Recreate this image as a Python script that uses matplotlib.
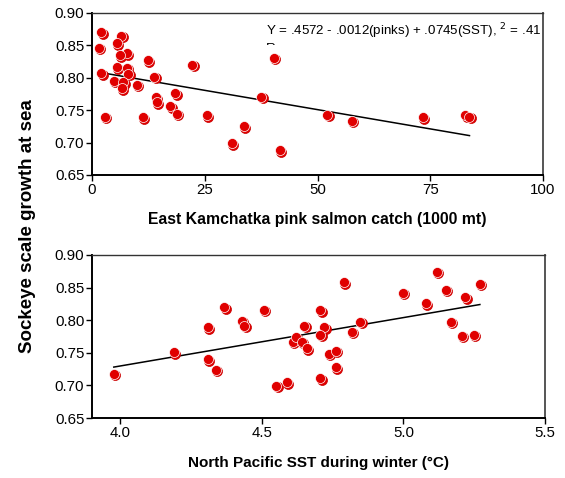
import numpy as np
import matplotlib.pyplot as plt
import matplotlib.transforms as mtransforms

plt.rcParams['font.family'] = ['Liberation Sans', 'DejaVu Sans']

# Top panel: pink salmon catch (1000 mt) vs sockeye scale growth
pinks = [2.05, 6.5, 1.5, 5.5, 7.75, 6.1, 12.4, 22.2, 2.05, 5.5, 7.75, 8.05,
         4.8, 6.9, 6.6, 9.9, 13.8, 14.1, 14.4, 18.5, 17.4, 18.75, 2.8, 11.2,
         25.5, 33.6, 31.0, 41.7, 37.5, 40.3, 52.2, 57.6, 73.3, 82.8, 83.7]
growth_top = [0.870, 0.865, 0.846, 0.853, 0.838, 0.835, 0.827, 0.820, 0.807,
              0.816, 0.815, 0.806, 0.795, 0.793, 0.784, 0.789, 0.802, 0.770,
              0.762, 0.776, 0.756, 0.744, 0.740, 0.739, 0.742, 0.725, 0.699,
              0.688, 0.771, 0.831, 0.743, 0.734, 0.739, 0.742, 0.740]

# Bottom panel: winter SST (deg C) vs sockeye scale growth
sst = [3.977, 4.19, 4.31, 4.31, 4.338, 4.367, 4.43, 4.438, 4.507, 4.551,
       4.588, 4.609, 4.62, 4.642, 4.658, 4.65, 4.707, 4.72, 4.707, 4.707,
       4.737, 4.761, 4.761, 4.789, 4.848, 4.818, 4.998, 5.079, 5.117, 5.149,
       5.219, 5.27, 5.167, 5.207, 5.248]
growth_bot = [0.718, 0.751, 0.789, 0.740, 0.724, 0.820, 0.799, 0.791, 0.816,
              0.699, 0.705, 0.767, 0.775, 0.767, 0.757, 0.791, 0.815, 0.789,
              0.778, 0.711, 0.748, 0.753, 0.728, 0.858, 0.798, 0.782, 0.842,
              0.826, 0.874, 0.847, 0.835, 0.856, 0.798, 0.776, 0.778]

# fitted lines (intercept, slope) as drawn in the figure
fit_top = (0.8104, -0.00119)
fit_bot = (0.433, 0.0742)

eq_text = 'Y = .4572 - .0012(pinks) + .0745(SST), $^{2}$ = .41'

fig = plt.figure(figsize=(5.65, 4.78), dpi=100)
ax1 = fig.add_axes([92 / 565, 1 - 175 / 478, 451 / 565, 162 / 478])
ax2 = fig.add_axes([92 / 565, 1 - 418 / 478, 453 / 565, 163 / 478])


def draw_points(ax, x, y):
    # back circle shifted down-right, front circle with thin white rim
    shift = mtransforms.ScaledTranslation(1.0 / 72, -1.0 / 72, fig.dpi_scale_trans)
    ax.plot(x, y, 'o', ms=7.2, color='#e00000', mec='#c80000', mew=0.5,
            transform=ax.transData + shift, zorder=3, clip_on=False)
    ax.plot(x, y, 'o', ms=7.2, color='#e00000', mec='white', mew=0.5,
            zorder=4, clip_on=False)


def draw_fit(ax, x, fit):
    xs = np.array([min(x), max(x)])
    ax.plot(xs, fit[0] + fit[1] * xs, color='black', lw=1.1, zorder=2)


for ax in (ax1, ax2):
    ax.set_ylim(0.65, 0.90)
    ax.set_yticks([0.65, 0.70, 0.75, 0.80, 0.85, 0.90])
    ax.set_yticklabels(['0.65', '0.70', '0.75', '0.80', '0.85', '0.90'])
    ax.tick_params(direction='out', length=4, width=1, labelsize=10.8,
                   colors='black', pad=1.5)
    ax.spines['left'].set_linewidth(1.4)
    ax.spines['bottom'].set_linewidth(1.4)
    ax.spines['top'].set_linewidth(1.0)
    ax.spines['right'].set_linewidth(1.4)
    ax.spines['top'].set_color('#333333')
    ax.spines['right'].set_color('#555555')

draw_fit(ax1, pinks, fit_top)
draw_points(ax1, pinks, growth_top)
ax1.set_xlim(0, 100)
ax1.set_xticks([0, 25, 50, 75, 100])
ax1.set_xlabel('East Kamchatka pink salmon catch (1000 mt)', fontsize=11.3,
               fontweight='bold', labelpad=11)
ax1.text(0.385, 0.885, eq_text, transform=ax1.transAxes, fontsize=9.6,
         va='center', ha='left')
r_txt = ax1.text(0.385, 0.78, 'R', transform=ax1.transAxes, fontsize=9.6,
                 va='center', ha='left')
r_txt.set_clip_box(mtransforms.TransformedBbox(
    mtransforms.Bbox([[0.3, 0.80], [0.5, 0.9]]), ax1.transAxes))
r_txt.set_clip_on(True)

draw_fit(ax2, sst, fit_bot)
draw_points(ax2, sst, growth_bot)
ax2.set_xlim(3.9, 5.5)
ax2.set_xticks([4.0, 4.5, 5.0, 5.5])
ax2.set_xticklabels(['4.0', '4.5', '5.0', '5.5'])
ax2.set_xlabel('North Pacific SST during winter (\u00b0C)', fontsize=11,
               fontweight='bold', labelpad=12)

fig.text(28 / 565, 1 - 226 / 478, 'Sockeye scale growth at sea', rotation=90,
         fontsize=13.5, fontweight='bold', ha='center', va='center')

fig.savefig('out.png', dpi=100)
